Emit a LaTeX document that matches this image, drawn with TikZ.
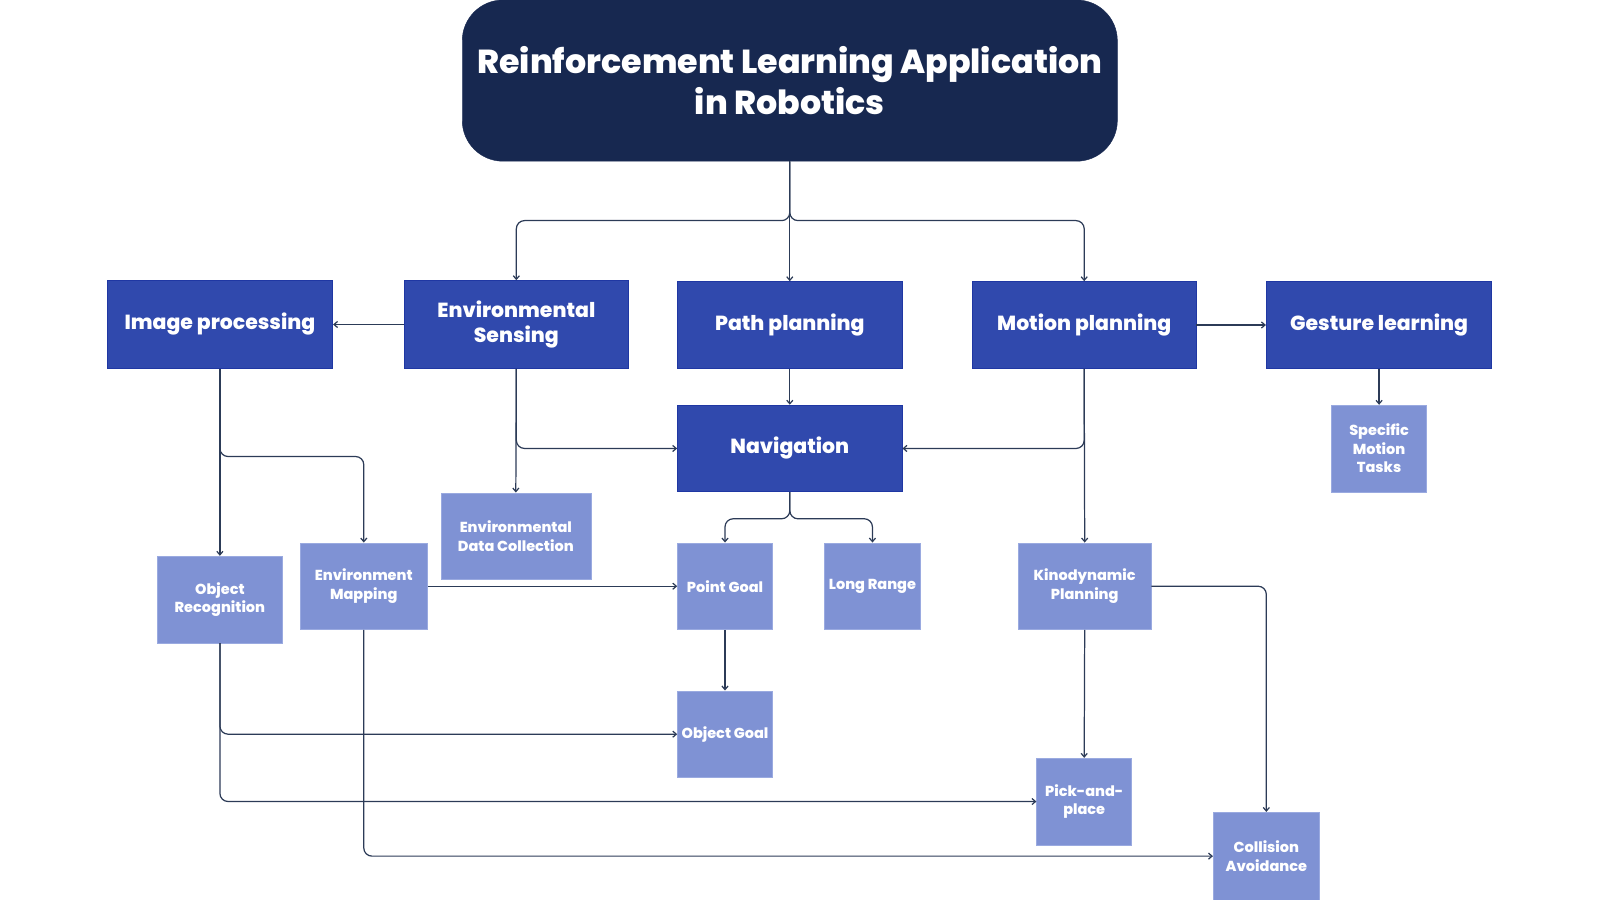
\documentclass[tikz,border=0pt]{standalone}
\usepackage{fontspec}
\setmainfont{Poppins}[BoldFont={Poppins ExtraBold}]
\usetikzlibrary{arrows.meta}
\definecolor{navy}{HTML}{172850}
\definecolor{darkbox}{HTML}{3049AD}
\definecolor{darkedge}{HTML}{1F37A3}
\definecolor{lightbox}{HTML}{7F92D4}
\definecolor{lightedge}{HTML}{9AAAE0}
\definecolor{wire}{HTML}{2C3B57}
\tikzset{
  titlebox/.style={fill=navy, draw=navy, rounded corners=40pt, text=white, inner sep=0pt,
    align=center, font=\bfseries\fontsize{32.6}{41}\selectfont},
  darknode/.style={fill=darkbox, draw=darkedge, line width=0.8pt, text=white, inner sep=0pt,
    align=center, font=\bfseries\fontsize{20}{24}\selectfont},
  lightnode/.style={fill=lightbox, draw=lightedge, line width=0.6pt, text=white, inner sep=0pt,
    align=center, font=\bfseries\fontsize{14.2}{18}\selectfont},
  wirearrow/.style={draw=wire, line width=1.2pt, -{Straight Barb[length=3.5pt,width=6pt]}},
}
\begin{document}
\begin{tikzpicture}[x=1pt,y=-1pt]
\useasboundingbox (0,0) rectangle (1568,882);
\node[titlebox, minimum width=642, minimum height=158] (title) at (774,79) {Reinforcement Learning Application\\in Robotics};

\node[darknode, minimum width=221, minimum height=86] (img) at (215.5,318) {Image processing};
\node[darknode, minimum width=220, minimum height=86] (env) at (506,318) {Environmental\\Sensing};
\node[darknode, minimum width=220, minimum height=85] (path) at (774,318.5) {Path planning};
\node[darknode, minimum width=219, minimum height=85] (motion) at (1062.5,318.5) {Motion planning};
\node[darknode, minimum width=221, minimum height=85] (gest) at (1351.5,318.5) {Gesture learning};
\node[darknode, minimum width=220, minimum height=85] (nav) at (774,439.5) {Navigation};

\node[lightnode, minimum width=93, minimum height=85] (smt) at (1351.5,439.5) {Specific\\Motion\\Tasks};
\node[lightnode, minimum width=147, minimum height=85] (edc) at (505.5,525.5) {Environmental\\Data Collection};
\node[lightnode, minimum width=123, minimum height=85] (objrec) at (215.5,587.5) {Object\\Recognition};
\node[lightnode, minimum width=125, minimum height=85] (envmap) at (356.5,574.5) {Environment\\Mapping};
\node[lightnode, minimum width=93, minimum height=85] (pg) at (710.5,574.5) {Point Goal};
\node[lightnode, minimum width=94, minimum height=85] (lr) at (855,574.5) {Long Range};
\node[lightnode, minimum width=130, minimum height=85] (kino) at (1063,574.5) {Kinodynamic\\Planning};
\node[lightnode, minimum width=93, minimum height=85] (og) at (710.5,719.5) {Object Goal};
\node[lightnode, minimum width=93, minimum height=85] (pnp) at (1062.5,785.5) {Pick-and-\\place};
\node[lightnode, minimum width=104, minimum height=86] (ca) at (1241,839) {Collision\\Avoidance};

% title branches
\draw[wirearrow, rounded corners=8pt] (title.south) -- ++(0,58) -| (env.north);
\draw[wirearrow] (title.south) -- (path.north);
\draw[wirearrow, rounded corners=8pt] (title.south) -- ++(0,58) -| (motion.north);

% row 1 side arrows
\draw[wirearrow] (env.west) -- (img.east);
\draw[wirearrow] (motion.east) -- (gest.west);
\draw[wirearrow] (gest.south) -- (smt.north);
\draw[wirearrow] (path.south) -- (nav.north);

% to navigation
\draw[wirearrow, rounded corners=8pt] (env.south) |- (nav.west);
\draw[wirearrow] (env.south) -- (edc.north);
\draw[wirearrow, rounded corners=8pt] (motion.south) |- (nav.east);
\draw[wirearrow] (motion.south) -- (kino.north);

% navigation split
\draw[wirearrow, rounded corners=8pt] (nav.south) -- ++(0,26) -| (pg.north);
\draw[wirearrow, rounded corners=8pt] (nav.south) -- ++(0,26) -| (lr.north);

% image processing
\draw[wirearrow] (img.south) -- (objrec.north);
\draw[wirearrow, rounded corners=8pt] (img.south) -- ++(0,86) -| (envmap.north);

\draw[wirearrow] (envmap.east) -- (pg.west);
\draw[wirearrow] (pg.south) -- (og.north);
\draw[wirearrow, rounded corners=8pt] (objrec.south) |- (og.west);
\draw[wirearrow, rounded corners=8pt] (objrec.south) |- (pnp.west);
\draw[wirearrow, rounded corners=8pt] (envmap.south) |- (ca.west);
\draw[wirearrow] (kino.south) -- (pnp.north);
\draw[wirearrow, rounded corners=8pt] (kino.east) -| (ca.north);
\end{tikzpicture}
\end{document}
